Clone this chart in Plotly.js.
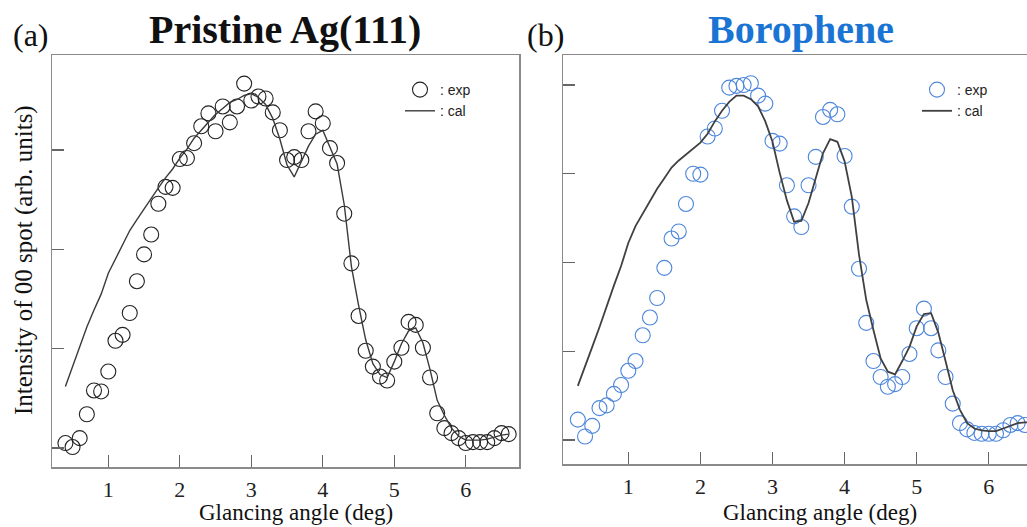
<!DOCTYPE html>
<html><head><meta charset="utf-8">
<script src="https://cdn.plot.ly/plotly-3.0.1.min.js"></script>
<style>html,body{margin:0;padding:0;overflow:hidden;background:#fff;width:1027px;height:527px}</style>
</head><body><div id="chart" style="width:1060px;height:527px"></div>
<script>
// ---- data ----
const angleA = [0.4,0.5,0.6,0.7,0.8,0.9,1.0,1.1,1.2,1.3,1.4,1.5,1.6,1.7,1.8,1.9,2.0,2.1,2.2,2.3,2.4,2.5,2.6,2.7,2.8,2.9,3.0,3.1,3.2,3.3,3.4,3.5,3.6,3.7,3.8,3.9,4.0,4.1,4.2,4.3,4.4,4.5,4.6,4.7,4.8,4.9,5.0,5.1,5.2,5.3,5.4,5.5,5.6,5.7,5.8,5.9,6.0,6.1,6.2,6.3,6.4,6.5,6.6];
const expA = [0.05,0.01,0.10,0.34,0.58,0.57,0.77,1.08,1.14,1.36,1.68,1.95,2.15,2.46,2.63,2.62,2.91,2.92,3.07,3.24,3.37,3.19,3.44,3.28,3.44,3.67,3.50,3.54,3.52,3.38,3.20,2.90,2.93,2.90,3.19,3.39,3.27,3.02,2.87,2.36,1.86,1.33,0.98,0.82,0.72,0.68,0.87,1.01,1.27,1.24,1.01,0.71,0.35,0.20,0.15,0.10,0.05,0.06,0.06,0.06,0.10,0.15,0.14];
const calA = [0.62,0.82,1.03,1.22,1.39,1.55,1.76,1.90,2.05,2.19,2.30,2.41,2.51,2.62,2.72,2.81,2.92,3.01,3.12,3.20,3.29,3.36,3.42,3.48,3.51,3.55,3.57,3.53,3.46,3.32,3.11,2.85,2.73,2.89,3.04,3.16,3.20,3.03,2.86,2.45,1.83,1.44,1.09,0.85,0.74,0.71,0.87,1.05,1.18,1.21,1.06,0.79,0.48,0.33,0.20,0.12,0.08,0.08,0.08,0.09,0.11,0.13,0.14];

const angleBexp = [0.3,0.4,0.5,0.6,0.7,0.8,0.9,1.0,1.1,1.2,1.3,1.4,1.5,1.6,1.7,1.8,1.9,2.0,2.1,2.2,2.3,2.4,2.5,2.6,2.7,2.8,2.9,3.0,3.1,3.2,3.3,3.4,3.5,3.6,3.7,3.8,3.9,4.0,4.1,4.2,4.3,4.4,4.5,4.6,4.7,4.8,4.9,5.0,5.1,5.2,5.3,5.4,5.5,5.6,5.7,5.8,5.9,6.0,6.1,6.2,6.3,6.4,6.5];
const expB = [0.23,0.04,0.16,0.36,0.39,0.52,0.62,0.78,0.89,1.18,1.38,1.60,1.94,2.27,2.35,2.66,3.00,2.99,3.42,3.51,3.71,3.97,3.99,4.00,4.02,3.88,3.79,3.37,3.34,2.87,2.52,2.40,2.87,3.19,3.64,3.72,3.67,3.20,2.63,1.93,1.32,0.89,0.71,0.60,0.63,0.71,0.97,1.26,1.48,1.26,1.01,0.71,0.41,0.19,0.12,0.08,0.07,0.07,0.07,0.11,0.17,0.19,0.17];
const angleBcal = [0.3,0.4,0.5,0.6,0.7,0.8,0.9,1.0,1.1,1.2,1.3,1.4,1.5,1.6,1.7,1.8,1.9,2.0,2.1,2.2,2.3,2.4,2.5,2.6,2.7,2.8,2.9,3.0,3.1,3.2,3.3,3.4,3.5,3.6,3.7,3.8,3.9,4.0,4.1,4.2,4.3,4.4,4.5,4.6,4.7,4.8,4.9,5.0,5.1,5.2,5.3,5.4,5.5,5.6,5.7,5.8,5.9,6.0,6.1,6.2,6.3,6.4,6.5,6.6];
const calB = [0.61,0.82,1.05,1.27,1.51,1.74,1.96,2.22,2.41,2.55,2.69,2.83,2.95,3.07,3.15,3.22,3.29,3.35,3.45,3.59,3.71,3.81,3.88,3.88,3.84,3.76,3.59,3.36,3.01,2.70,2.46,2.47,2.67,2.95,3.23,3.39,3.36,3.14,2.74,2.09,1.58,1.24,0.92,0.77,0.74,0.89,1.05,1.28,1.42,1.43,1.21,0.89,0.56,0.34,0.19,0.13,0.11,0.10,0.10,0.13,0.16,0.19,0.20,0.20];

const xTicks = [1,2,3,4,5,6];
const xTickText = ['1','2','3','4','5','6'];
const yTicksA = [0,1,2,3];
const yTicksB = [0,1,2,3,4];
const legendNames = [': exp', ': cal'];

// ---- layout helpers ----
const W = 1060, H = 527;
const fx = p => p / W;
const fy = p => 1 - p / H;
const SERIF = 'Liberation Serif, Times New Roman, serif';
const SANS = 'Liberation Sans, Arial, sans-serif';

function xax(d0, d1, r, anchor) {
  return {domain:[fx(d0), fx(d1)], range:r, anchor:anchor, showline:true, mirror:true,
    linecolor:'#8a8a8a', linewidth:1.5, ticks:'inside', ticklen:12, tickwidth:1.3, tickcolor:'#666',
    tickvals:xTicks, ticktext:xTickText, tickfont:{family:SERIF, size:22, color:'#222'},
    ticklabelstandoff:2, showgrid:false, zeroline:false, fixedrange:true};
}
function yax(d0, d1, r, tv, anchor) {
  return {domain:[fy(d1), fy(d0)], range:r, anchor:anchor, showline:true, mirror:true,
    linecolor:'#8a8a8a', linewidth:1.5, ticks:'inside', ticklen:12, tickwidth:1.3, tickcolor:'#666',
    tickvals:tv, showticklabels:false, showgrid:false, zeroline:false, fixedrange:true};
}

const traces = [
  {x:angleA, y:expA, xaxis:'x', yaxis:'y', mode:'markers', name:legendNames[0], legend:'legend',
   marker:{symbol:'circle-open', size:15, color:'#222', line:{width:1.1, color:'#222'}}},
  {x:angleA, y:calA, xaxis:'x', yaxis:'y', mode:'lines', name:legendNames[1], legend:'legend',
   line:{color:'#3a3a3a', width:1.4}},
  {x:angleBexp, y:expB, xaxis:'x2', yaxis:'y2', mode:'markers', name:legendNames[0], legend:'legend2',
   marker:{symbol:'circle-open', size:15, color:'#4d86dc', line:{width:1.1, color:'#4d86dc'}}},
  {x:angleBcal, y:calB, xaxis:'x2', yaxis:'y2', mode:'lines', name:legendNames[1], legend:'legend2',
   line:{color:'#404040', width:1.8}}
];

const ann = (x, y, text, size, extra) => Object.assign({xref:'paper', yref:'paper', x:fx(x), y:fy(y),
  text:text, showarrow:false, xanchor:'center', yanchor:'middle',
  font:{family:SERIF, size:size, color:'#111'}}, extra || {});

const legFont = {family:SANS, size:14, color:'#222'};
const layout = {
  width:W, height:H, margin:{l:0, r:0, t:0, b:0}, paper_bgcolor:'#fff', plot_bgcolor:'#fff',
  xaxis: xax(52, 519, [0.2126, 6.744], 'y'),
  yaxis: yax(55, 467, [-0.191, 3.958], yTicksA, 'x'),
  xaxis2: xax(563, 1050, [0.0943, 6.849], 'y2'),
  yaxis2: yax(55, 464, [-0.270, 4.338], yTicksB, 'x2'),
  legend: {x:fx(400), y:fy(74), xanchor:'left', yanchor:'top', bgcolor:'rgba(0,0,0,0)',
    font:legFont, itemwidth:30, tracegroupgap:0},
  legend2: {x:fx(917), y:fy(74), xanchor:'left', yanchor:'top', bgcolor:'rgba(0,0,0,0)',
    font:legFont, itemwidth:30, tracegroupgap:0},
  annotations: [
    ann(31, 35, '(a)', 32),
    ann(284.5, 29, '<b>Pristine Ag(111)</b>', 40),
    ann(545, 35, '(b)', 32),
    ann(801, 30, '<b>Borophene</b>', 40, {font:{family:SERIF, size:40, color:'#1a74d4'}}),
    ann(296, 512, 'Glancing angle (deg)', 23),
    ann(820, 512, 'Glancing angle (deg)', 23),
    ann(24, 260, 'Intensity of 00 spot (arb. units)', 25, {textangle:-90})
  ],
  showlegend:true
};

Plotly.newPlot('chart', traces, layout, {displayModeBar:false, staticPlot:true});
</script></body></html>
